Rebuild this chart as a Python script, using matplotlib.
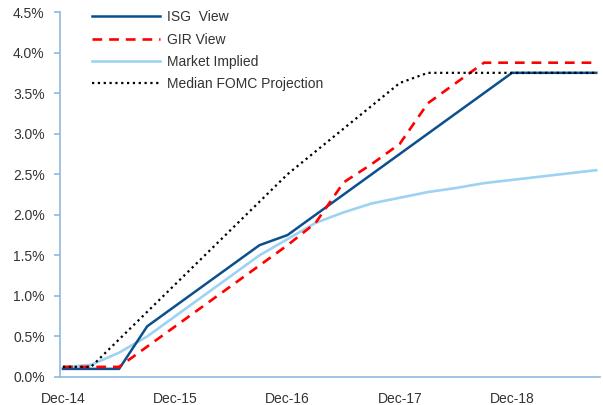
import matplotlib
matplotlib.use("Agg")
import matplotlib.pyplot as plt
from matplotlib.ticker import FuncFormatter

plt.rcParams['font.family'] = ['Liberation Sans Narrow', 'Liberation Sans', 'DejaVu Sans']
plt.rcParams['lines.scale_dashes'] = False

# months after Dec-14
isg_x = [0, 6, 9, 12, 15, 18, 21, 24, 27, 30, 33, 36, 39, 42, 45, 48, 57]
isg_y = [0.10, 0.10, 0.625, 0.875, 1.125, 1.375, 1.625, 1.75, 2.0, 2.25,
         2.5, 2.75, 3.0, 3.25, 3.5, 3.75, 3.75]

gir_x = [0, 6, 9, 12, 15, 18, 21, 24, 27, 30, 33, 36, 39, 42, 45, 57]
gir_y = [0.125, 0.125, 0.375, 0.625, 0.875, 1.125, 1.375, 1.625, 1.9, 2.4,
         2.625, 2.875, 3.375, 3.625, 3.875, 3.875]

mkt_x = [0, 3, 6, 9, 12, 15, 18, 21, 24, 27, 30, 33, 36, 39, 42, 45, 48,
         51, 54, 57]
mkt_y = [0.12, 0.15, 0.30, 0.50, 0.75, 1.0, 1.25, 1.5, 1.7, 1.9, 2.03, 2.14,
         2.21, 2.28, 2.33, 2.39, 2.43, 2.47, 2.51, 2.55]

fomc_x = [0, 3, 24, 36, 39, 57]
fomc_y = [0.125, 0.125, 2.5, 3.625, 3.75, 3.75]

tick_pos = [0, 12, 24, 36, 48]
tick_labels = ['Dec-14', 'Dec-15', 'Dec-16', 'Dec-17', 'Dec-18']

fig = plt.figure(figsize=(6.03, 4.05), dpi=100)
ax = fig.add_axes([60 / 603, 28 / 405, 540 / 603, 365 / 405])

ax.plot(mkt_x, mkt_y, color='#9DD3F2', lw=1.9, label='Market Implied', zorder=2)
ax.plot(isg_x, isg_y, color='#0B4F8C', lw=1.8, label='ISG  View', zorder=3)
ax.plot(gir_x, gir_y, color='#FF0000', lw=1.9, linestyle=(0, (7, 5)),
        label='GIR View', zorder=4)
ax.plot(fomc_x, fomc_y, color='black', lw=1.6, linestyle=(0, (1.6, 2.6)),
        label='Median FOMC Projection', zorder=5)

ax.set_xlim(-0.32, 57.4)
ax.set_ylim(0, 4.5)
ax.set_yticks([i * 0.5 for i in range(10)])
ax.yaxis.set_major_formatter(FuncFormatter(lambda v, p: f"{v:.1f}%"))
ax.set_xticks(tick_pos)
ax.set_xticklabels(tick_labels)

spine_col = '#8DB9DF'
for s in ['top', 'right']:
    ax.spines[s].set_visible(False)
for s in ['left', 'bottom']:
    ax.spines[s].set_color(spine_col)
    ax.spines[s].set_linewidth(1.2)
ax.tick_params(axis='y', length=4, width=1.2, color=spine_col, pad=7,
               labelsize=10, labelcolor='#333333')
ax.tick_params(axis='x', length=0, pad=11, labelsize=10, labelcolor='#333333')

handles, labels = ax.get_legend_handles_labels()
order = [1, 2, 0, 3]
ax.legend([handles[i] for i in order], [labels[i] for i in order],
          loc='upper left', bbox_to_anchor=(0.06, 1.005), frameon=False,
          fontsize=10, handlelength=4.9, handletextpad=0.45,
          labelspacing=0.6, borderpad=0, borderaxespad=0, labelcolor='#333333')

fig.savefig('out.png', dpi=100)
